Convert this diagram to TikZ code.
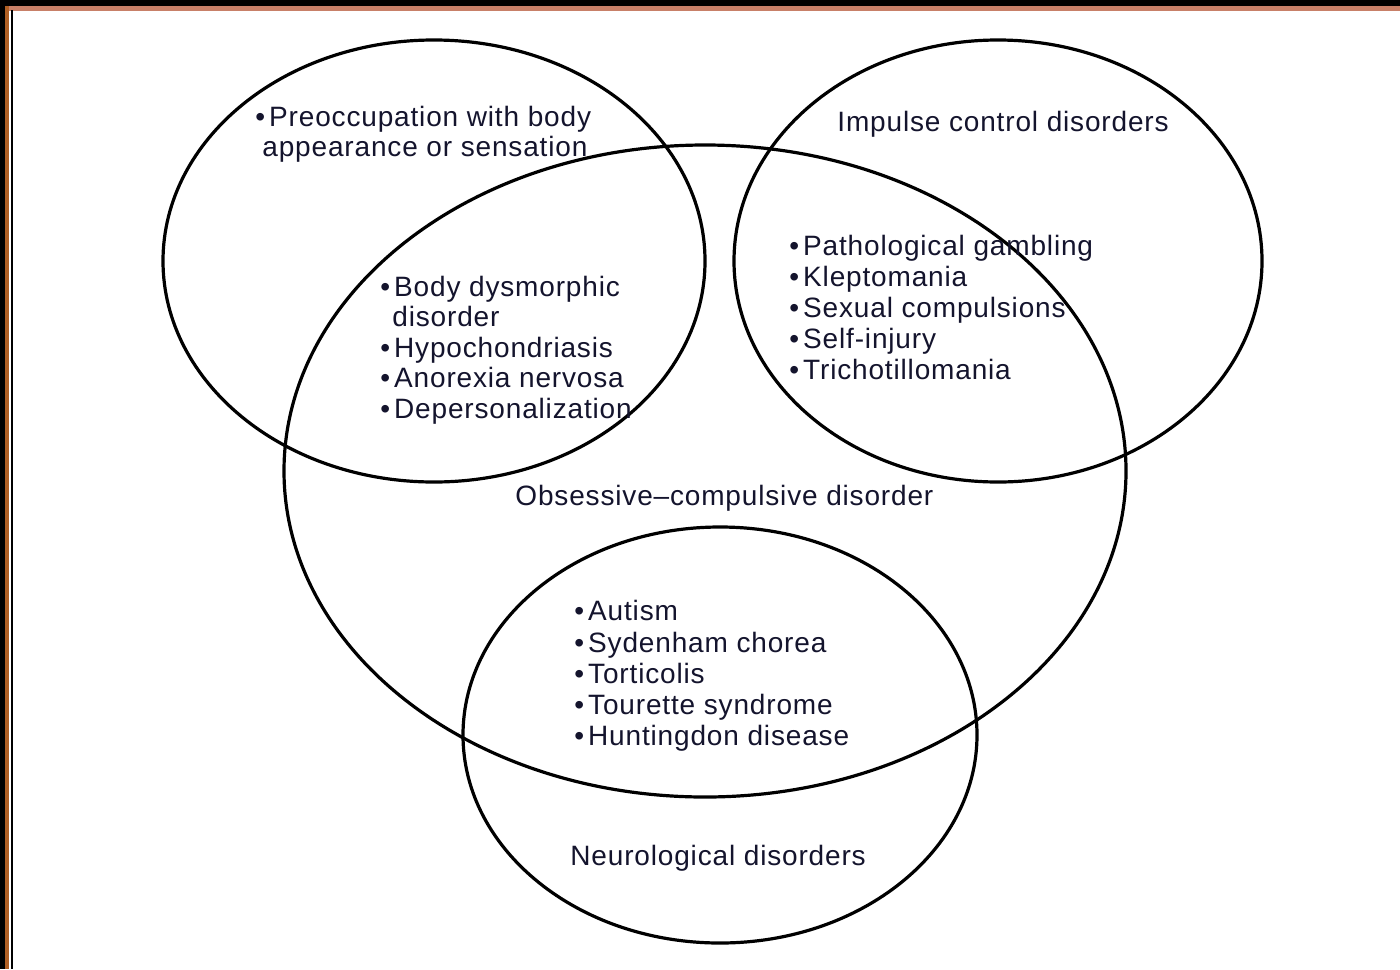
\documentclass[tikz,border=0pt]{standalone}
\usepackage{fontspec}
\setmainfont{Liberation Sans}[LetterSpace=3]
\definecolor{txt}{RGB}{20,20,45}
\definecolor{bandtop}{RGB}{200,128,104}
\definecolor{bandleft}{RGB}{176,96,36}
\tikzset{
  lbl/.style={anchor=base west, inner sep=0pt, text=txt, font=\fontsize{14}{15.5}\selectfont},
  venn/.style={draw=black, line width=1.6pt},
}
\newcommand{\bl}{\textbullet\hspace{2pt}}
\begin{document}
\begin{tikzpicture}[x=0.5pt,y=-0.5pt]
\useasboundingbox (0,0) rectangle (1400,969);
\fill[white] (0,0) rectangle (1400,969);
% frame
\fill[black] (0,0) rectangle (1400,6);
\fill[bandtop] (8,6) rectangle (1400,11);
\fill[black] (0,0) rectangle (5,969);
\fill[bandleft] (5,6) rectangle (9,969);
\fill[black] (11,10) rectangle (13,969);
% ellipses
\draw[venn] (434,261) ellipse [x radius=135.5pt, y radius=110.5pt];
\draw[venn] (998,261) ellipse [x radius=132pt, y radius=110.5pt];
\draw[venn] (705,471) ellipse [x radius=210.5pt, y radius=163pt];
\draw[venn] (720,735) ellipse [x radius=128.5pt, y radius=104pt];
% top-left
\node[lbl] (pre1) at (255,126) {\bl Preoccupation with body};
\node[lbl] (pre2) at (262,156) {appearance or sensation};
% body list
\node[lbl] (b1) at (380,296) {\bl Body dysmorphic};
\node[lbl] (b1b) at (392,326) {disorder};
\node[lbl] (b2) at (380,357) {\bl Hypochondriasis};
\node[lbl] (b3) at (380,387) {\bl Anorexia nervosa};
\node[lbl] (b4) at (380,418) {\bl Depersonalization};
% impulse
\node[lbl] (imp) at (837,131) {Impulse control disorders};
\node[lbl] (i1) at (789,255) {\bl Pathological gambling};
\node[lbl] (i2) at (789,286) {\bl Kleptomania};
\node[lbl] (i3) at (789,317) {\bl Sexual compulsions};
\node[lbl] (i4) at (789,348) {\bl Self-injury};
\node[lbl] (i5) at (789,379) {\bl Trichotillomania};
% OCD
\node[lbl] (ocd) at (515,505) {Obsessive–compulsive disorder};
% neuro
\node[lbl] (n1) at (574,620) {\bl Autism};
\node[lbl] (n2) at (574,652) {\bl Sydenham chorea};
\node[lbl] (n3) at (574,683) {\bl Torticolis};
\node[lbl] (n4) at (574,714) {\bl Tourette syndrome};
\node[lbl] (n5) at (574,745) {\bl Huntingdon disease};
\node[lbl] (neu) at (570,865) {Neurological disorders};
\end{tikzpicture}
\end{document}
